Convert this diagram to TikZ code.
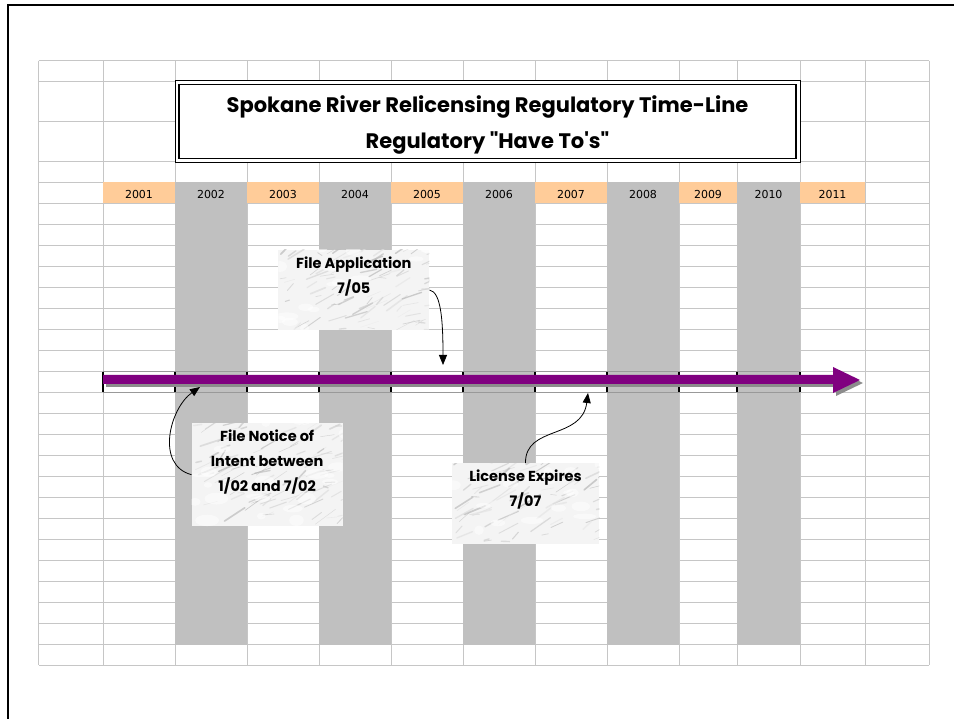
\documentclass[tikz,border=0pt]{standalone}
\usepackage{fontspec}
\setmainfont{DejaVu Sans}
\newfontfamily\comicfont{Poppins}
\usepackage{tikz}
\usetikzlibrary{arrows.meta}
\usetikzlibrary{calc}

\definecolor{cellgray}{HTML}{C0C0C0}
\definecolor{gridgray}{HTML}{C6C6C6}
\definecolor{peach}{HTML}{FFCC99}
\definecolor{barpurple}{HTML}{800080}
\definecolor{shadowgray}{HTML}{8C8C8C}

\tikzset{
  gridline/.style={gridgray, line width=1pt},
  yearlabel/.style={font=\fontsize{11}{13}\selectfont, inner sep=0pt},
  titlebox/.style={draw, line width=1.8pt, fill=white, minimum width=617pt,
    minimum height=74pt, inner sep=0pt, align=center,
    font=\comicfont\bfseries\fontsize{21}{36}\selectfont},
  marble/.style={fill=gray!9, inner sep=0pt, path picture={
      \foreach \i in {1,...,110}{
        \pgfmathsetmacro{\px}{rnd*160}
        \pgfmathsetmacro{\py}{rnd*110}
        \pgfmathsetmacro{\dx}{4+rnd*18}
        \pgfmathsetmacro{\dy}{0.5*\dx+rnd*10-5}
        \pgfmathsetmacro{\lw}{0.3+1.4*rnd}
        \pgfmathsetmacro{\gv}{8+rnd*20}
        \draw[black!\gv, line width=\lw pt, line cap=round, opacity=0.7]
          ($(path picture bounding box.south west)+(\px pt,\py pt)$)
          -- ++(\dx pt,\dy pt);
      }
      \foreach \i in {1,...,25}{
        \pgfmathsetmacro{\px}{rnd*160}
        \pgfmathsetmacro{\py}{rnd*110}
        \pgfmathsetmacro{\ra}{4+rnd*8}
        \pgfmathsetmacro{\rb}{2+rnd*4}
        \fill[white, opacity=0.5]
          ($(path picture bounding box.south west)+(\px pt,\py pt)$)
          ellipse (\ra pt and \rb pt);
      }
    }},
  pointer/.style={-{Triangle[length=10pt,width=8pt]}, line width=0.8pt},
}

\newcommand{\callouttext}[3]{\parbox[c][#2][t]{#1}{\centering\comicfont\bfseries
  \fontsize{14.5}{25}\selectfont\vspace*{7pt}#3}}

\begin{document}
\begin{tikzpicture}[x=1pt,y=-1pt]
      \useasboundingbox (0,0) rectangle (954,719);
      \pgfmathsetseed{11}

      % sheet grid
      \foreach \y in {60.7,81.7,121.7,161.3}
      \draw[gridline] (38.5,\y) -- (929,\y);
      \foreach \k in {0,...,23}
      \draw[gridline] (38.5,182.3+21*\k) -- (929,182.3+21*\k);
      \foreach \x in {38.5,103,175,247,319,391,463,535,607,679,737,800,865,929}
      \draw[gridline] (\x,60.7) -- (\x,665.3);

      % shaded columns
      \foreach \a/\b in {175/247,319/391,463/535,607/679,737/800}
      \fill[cellgray] (\a,182.3) rectangle (\b,645.3);
      \foreach \a/\b in {103/175,247/319,391/463,535/607,679/737,800/865}
      \fill[peach] (\a,182.3) rectangle (\b,203.3);

      % years
      \foreach \yr/\a/\b in {2001/103/175,2002/175/247,2003/247/319,2004/319/391,
        2005/391/463,2006/463/535,2007/535/607,2008/607/679,2009/679/737,
        2010/737/800,2011/800/865}
      \node[yearlabel] (y\yr) at ({(\a+\b)/2},194) {\yr};

      % title
      \fill[white] (175,80.5) rectangle (800,162.5);
      \draw[line width=0.6pt] (175,80.5) rectangle (800,162.5);
      \node[titlebox] (title) at (487.5,121.5)
        {\rule{0pt}{24pt}Spokane River Relicensing Regulatory Time-Line\\
         Regulatory "Have To\textquotesingle s"};

      % time-line ticks
      \draw[gray!80, line width=0.7pt] (103,371.7) -- (800,371.7);
      \draw[gray!80, line width=0.7pt] (103,392.3) -- (800,392.3);
      \foreach \x in {103,175,247,319,391,463,535,607,679,737,800}
      \draw[line width=1.4pt] (\x,371.7) -- (\x,392.3);

      % time-line arrow
      \fill[shadowgray, shift={(3,3)}] (103,375) -- (833,375) -- (833,367)
        -- (860,380) -- (833,393) -- (833,384) -- (103,384) -- cycle;
      \fill[barpurple] (103,375) -- (833,375) -- (833,367)
        -- (860,380) -- (833,393) -- (833,384) -- (103,384) -- cycle;

      % events
      \coordinate (tipApp) at (443,365);
      \coordinate (tipNotice) at (200,387);
      \coordinate (tipLicense) at (588,393);

      \node[marble] (app) at (353.8,290)
        {\callouttext{151pt}{80pt}{File Application\\7/05}};
      \node[marble] (notice) at (267.2,474.7)
        {\callouttext{151pt}{102.7pt}{File Notice of\\Intent between\\1/02 and 7/02}};
      \node[marble] (license) at (525.5,503.8)
        {\callouttext{147.6pt}{81pt}{License Expires\\7/07}};

      \draw[pointer] (app.east) .. controls (441,292) and (443,320) .. (tipApp);
      \draw[pointer] (notice.west) .. controls (155,465) and (170,408) .. (tipNotice);
      \draw[pointer] (license.north) .. controls (525,425) and (582,440) .. (tipLicense);

      % frame
      \draw[line width=2.5pt] (8,719) -- (8,5) -- (954,5);
\end{tikzpicture}
\end{document}
